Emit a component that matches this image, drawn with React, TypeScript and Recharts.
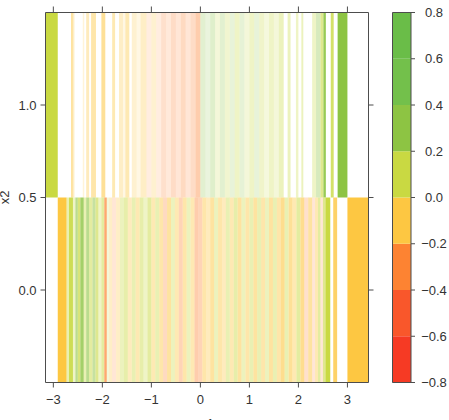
import { ComposedChart, XAxis, YAxis, ReferenceArea } from 'recharts'

// x1 range and axis ticks
const X_DOMAIN: [number, number] = [-3.16, 3.43]
const X_TICKS = [-3, -2, -1, 0, 1, 2, 3]
const Y_DOMAIN: [number, number] = [-0.5, 1.5]
const Y_TICKS = [0, 0.5, 1]

// colour scale levels (colorbar)
const LEVELS = [-0.8, -0.6, -0.4, -0.2, 0, 0.2, 0.4, 0.6, 0.8]
const LEVEL_COLORS = ['#f63a24', '#f9572b', '#fd8332', '#fdc742', '#c9d942', '#8dc443', '#73c04b', '#6abd48']

// x2 = 1 row (upper band): cell edges along x1, effect value, opacity
const upperEdges = [
  -3.16, -2.91, -2.64, -2.60, -2.57, -2.40, -2.37, -2.33, -2.27, -2.23, -2.13, -2.02,
  -1.94, -1.80, -1.74, -1.66, -1.58, -1.53, -1.45, -1.40, -1.30, -1.22, -1.10, -1.00,
  -0.90, -0.80, -0.70, -0.60, -0.50, -0.40, -0.30, -0.20, -0.10, 0.00, 0.10, 0.20,
  0.30, 0.40, 0.50, 0.60, 0.70, 0.80, 0.90, 1.00, 1.10, 1.20, 1.30, 1.40, 1.50, 1.60,
  1.70, 1.78, 1.84, 1.95, 2.00, 2.06, 2.10, 2.28, 2.36, 2.45, 2.51, 2.56, 2.66, 2.72,
  2.80, 3.00, 3.43,
]
const upperValues: (number | null)[] = [
  0.1, null, -0.1, -0.1, null, -0.1, null, -0.1, null, -0.1, null, -0.1,
  null, -0.1, null, -0.1, -0.1, -0.1, null, -0.1, -0.1, -0.1, -0.3, -0.1,
  -0.3, -0.3, -0.3, -0.3, -0.3, -0.3, -0.3, -0.3, -0.3, 0.3, 0.3, 0.3,
  0.1, 0.3, 0.1, 0.3, 0.1, 0.3, 0.1, 0.1, 0.3, 0.1, 0.1, 0.1, 0.1, 0.1,
  null, 0.1, null, 0.1, null, 0.1, null, 0.1, 0.3, 0.1, 0.3, null, 0.1, null,
  0.3, null,
]
const upperAlpha = [
  1, 0, 0.5, 0.3, 0, 0.2, 0, 0.35, 0, 0.45, 0, 0.55,
  0, 0.4, 0, 0.3, 0.15, 0.4, 0, 0.25, 0.15, 0.3, 0.15, 0.25,
  0.15, 0.25, 0.18, 0.28, 0.2, 0.3, 0.2, 0.28, 0.4, 0.25, 0.18, 0.28,
  0.2, 0.25, 0.25, 0.2, 0.3, 0.22, 0.2, 0.3, 0.2, 0.28, 0.18, 0.3, 0.2, 0.35,
  0, 0.35, 0, 0.3, 0, 0.35, 0, 0.3, 0.35, 0.6, 0.9, 0, 0.8, 0,
  1, 0,
]

// x2 = 0 row (lower band)
const lowerEdges = [
  -3.16, -2.91, -2.73, -2.68, -2.60, -2.55, -2.50, -2.45, -2.38, -2.33, -2.27, -2.20,
  -2.14, -2.08, -2.02, -1.96, -1.91, -1.86, -1.80, -1.72, -1.64, -1.56, -1.48, -1.40,
  -1.32, -1.24, -1.16, -1.08, -1.00, -0.92, -0.84, -0.76, -0.68, -0.60, -0.52, -0.44,
  -0.36, -0.28, -0.20, -0.12, -0.04, 0.04, 0.12, 0.20, 0.28, 0.36, 0.44, 0.52, 0.60,
  0.68, 0.76, 0.84, 0.92, 1.00, 1.08, 1.16, 1.24, 1.32, 1.40, 1.48, 1.56, 1.64, 1.72,
  1.80, 1.88, 1.96, 2.04, 2.12, 2.20, 2.28, 2.34, 2.40, 2.45, 2.50, 2.55, 2.65, 2.71,
  2.79, 3.00, 3.43,
]
const lowerValues: (number | null)[] = [
  null, -0.1, 0.1, 0.1, 0.1, 0.3, 0.1, 0.3, 0.1, 0.3, 0.1, 0.3,
  0.1, 0.1, 0.1, -0.3, 0.1, -0.1, -0.3, -0.1, 0.1, 0.1, -0.1, 0.1,
  -0.1, 0.1, 0.1, 0.1, -0.1, 0.1, -0.1, -0.3, -0.1, 0.1, -0.1, -0.3,
  -0.1, 0.1, -0.1, -0.3, -0.3, -0.1, -0.1, -0.1, 0.1, -0.1, -0.1, 0.1,
  -0.1, 0.1, -0.1, 0.1, -0.1, 0.1, -0.1, 0.1, -0.1, 0.1, -0.1, 0.1, -0.1,
  -0.1, 0.1, -0.1, -0.1, 0.1, -0.1, -0.3, -0.1, -0.3, -0.1, 0.1, -0.3,
  0.1, 0.1, null, -0.1, null, -0.1,
]
const lowerAlpha = [
  0, 1, 0.4, 0.9, 0.3, 0.6, 0.7, 0.8, 0.4, 0.6, 0.5, 0.5,
  0.6, 0.3, 0.5, 0.7, 0.2, 0.3, 0.2, 0.3, 0.35, 0.45, 0.35, 0.4,
  0.4, 0.45, 0.3, 0.5, 0.4, 0.4, 0.45, 0.3, 0.5, 0.35, 0.4, 0.35,
  0.45, 0.35, 0.4, 0.4, 0.35, 0.45, 0.35, 0.5, 0.35, 0.45, 0.35, 0.4,
  0.4, 0.45, 0.5, 0.35, 0.45, 0.4, 0.5, 0.4, 0.45, 0.35, 0.5, 0.4, 0.45,
  0.6, 0.4, 0.55, 0.4, 0.5, 0.6, 0.25, 0.5, 0.2, 0.4, 0.5, 0.2,
  0.6, 1, 0, 0.8, 0, 1,
]

const FONT = '"Liberation Sans", Arial, Helvetica, sans-serif'
const TEXT = '#333333'
const AXIS = '#4d4d4d'
const tickStyle = { fontFamily: FONT, fontSize: 13, fill: TEXT }

const fmt = (v: number) => String(v).replace('-', '\u2212')
const fmt1 = (v: number) => v.toFixed(1).replace('-', '\u2212')
const noLabel = () => <g />

function colorFor(v: number) {
  for (let i = 0; i < LEVEL_COLORS.length; i++) {
    if (v < LEVELS[i + 1]) return LEVEL_COLORS[i]
  }
  return LEVEL_COLORS[LEVEL_COLORS.length - 1]
}

function renderRow(edges: number[], values: (number | null)[], alpha: number[], y1: number, y2: number, key: string) {
  return values.map((v, i) =>
    v === null ? null : (
      <ReferenceArea
        key={`${key}-${i}`}
        xAxisId="b" yAxisId="l"
        x1={edges[i]} x2={edges[i + 1]} y1={y1} y2={y2}
        fill={colorFor(v)} fillOpacity={alpha[i]}
        stroke="none" ifOverflow="visible"
      />
    )
  )
}

function ColorbarTick(props: any) {
  const { x, y, payload } = props
  return (
    <text x={x + 17} y={y} dy="0.35em" textAnchor="middle" style={tickStyle}>
      {fmt1(payload.value)}
    </text>
  )
}

export default function App() {
  return (
    <div style={{ position: 'absolute', left: 0, top: 0, width: 449, height: 420, background: '#fff' }}>
      <div style={{ position: 'absolute', left: 0, top: 0 }}>
        <ComposedChart width={449} height={420} data={[]} margin={{ top: 0.5, right: 75.5, bottom: 0.5, left: 0.5 }}>
          <XAxis
            xAxisId="t" orientation="top" type="number" dataKey="x" domain={X_DOMAIN} ticks={X_TICKS}
            allowDataOverflow height={12} tickSize={6} tick={noLabel} stroke={AXIS}
          />
          <XAxis
            xAxisId="b" orientation="bottom" type="number" dataKey="x" domain={X_DOMAIN} ticks={X_TICKS}
            allowDataOverflow height={37} tickSize={5} tickMargin={7}
            stroke={AXIS} tick={tickStyle} tickFormatter={fmt}
            label={{ value: 'x1', position: 'insideBottom', offset: -8, style: { fontFamily: FONT, fontSize: 13, fill: TEXT } }}
          />
          <YAxis
            yAxisId="l" type="number" dataKey="y" domain={Y_DOMAIN} ticks={Y_TICKS}
            allowDataOverflow width={45} tickSize={5} tickMargin={4}
            stroke={AXIS} tick={tickStyle} tickFormatter={fmt1}
            label={{ value: 'x2', angle: -90, position: 'insideLeft', offset: 3.5, style: { fontFamily: FONT, fontSize: 13, fill: TEXT, textAnchor: 'middle' } }}
          />
          <YAxis
            yAxisId="r" orientation="right" type="number" dataKey="y" domain={Y_DOMAIN} ticks={Y_TICKS}
            allowDataOverflow width={5} tickSize={5} tick={noLabel} stroke={AXIS}
          />
          {renderRow(upperEdges, upperValues, upperAlpha, 0.5, 1.5, 'u')}
          {renderRow(lowerEdges, lowerValues, lowerAlpha, -0.5, 0.5, 'd')}
        </ComposedChart>
      </div>
      <div style={{ position: 'absolute', left: 388, top: 0 }}>
        <ComposedChart width={61} height={420} data={[]} margin={{ top: 12.5, right: 0, bottom: 37.5, left: 4.5 }}>
          <XAxis xAxisId="c" type="number" dataKey="x" domain={[0, 1]} allowDataOverflow hide />
          <YAxis
            yAxisId="c" orientation="right" type="number" dataKey="y" domain={[-0.8, 0.8]} ticks={LEVELS}
            allowDataOverflow width={38} tickSize={4} axisLine={false}
            stroke={AXIS} tick={<ColorbarTick />}
          />
          {LEVEL_COLORS.map((c, i) => (
            <ReferenceArea
              key={`cb-${i}`} xAxisId="c" yAxisId="c"
              x1={0} x2={1} y1={LEVELS[i]} y2={LEVELS[i + 1]}
              fill={c} fillOpacity={1} stroke="none" ifOverflow="visible"
            />
          ))}
          <ReferenceArea
            xAxisId="c" yAxisId="c" x1={0} x2={1} y1={-0.8} y2={0.8}
            fill="none" stroke={AXIS} strokeWidth={1} ifOverflow="visible"
          />
        </ComposedChart>
      </div>
    </div>
  )
}
